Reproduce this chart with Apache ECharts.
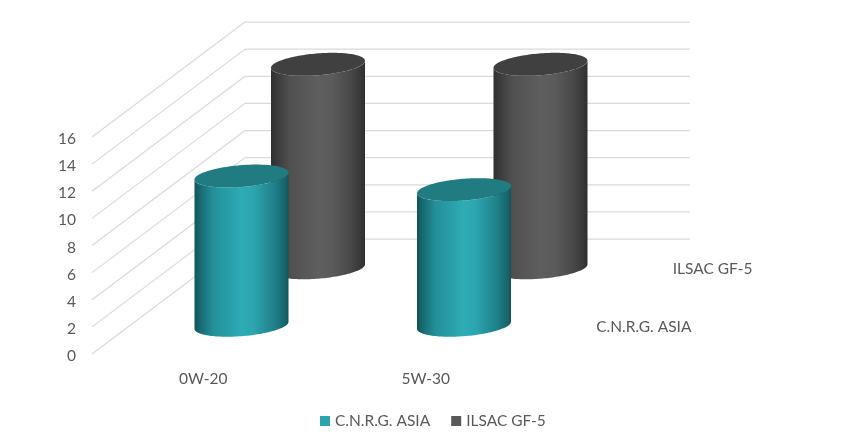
<!DOCTYPE html>
<html>
<head>
<meta charset="utf-8">
<style>html,body{margin:0;padding:0;background:#fff}#c{width:859px;height:446px}</style>
<script src="https://cdn.jsdelivr.net/npm/echarts@6/dist/echarts.min.js"></script>
</head>
<body>
<div id="c"></div>
<script>
const categories = ['0W-20', '5W-30'];
const cnrgValues = [11, 10];
const ilsacValues = [15, 15];
const yTicks = [0, 2, 4, 6, 8, 10, 12, 14, 16];
const seriesNames = ['C.N.R.G. ASIA', 'ILSAC GF-5'];

const FONT = 'Lato';
const FONT_SIZE = 15.5;
const TEXT = '#595959';
const DEPTH_X = 153, DEPTH_Y = 115;
const HALF_W = 47, HALF_H = 11.5, TILT = 18 * Math.PI / 180;

function ellipsePoint(c, t) {
  return [c[0] + HALF_W * Math.cos(t - TILT), c[1] - HALF_H * Math.sin(t)];
}
function grad(stops) {
  return new echarts.graphic.LinearGradient(0, 0, 1, 0,
    stops.map(s => ({ offset: s[0], color: s[1] })));
}
const palette = {
  teal: {
    swatch: '#2aa5ae', top: '#207c81',
    body: [[0, '#11555a'], [0.06, '#176a70'], [0.2, '#23909a'], [0.5, '#2eabb5'], [0.62, '#2ca6b0'], [0.85, '#20808a'], [0.97, '#15636a'], [1, '#125458']]
  },
  grey: {
    swatch: '#595959', top: '#404040',
    body: [[0, '#2f2f2f'], [0.06, '#3a3a3a'], [0.2, '#505050'], [0.5, '#5e5e5e'], [0.65, '#5b5b5b'], [0.85, '#484848'], [0.97, '#353535'], [1, '#2e2e2e']]
  }
};

function cylinderRenderer(depth, colors) {
  return function (params, api) {
    const i = api.value(0), v = api.value(1);
    const b = api.coord([i, 0]), t = api.coord([i, v]);
    const ox = DEPTH_X * depth, oy = -DEPTH_Y * depth;
    const base = [b[0] + ox, b[1] + oy], top = [t[0] + ox, t[1] + oy];
    const body = [], cap = [];
    const N = 72;
    // lower half of the base ellipse, right tangent to left tangent
    for (let k = 0; k <= N; k++) {
      body.push(ellipsePoint(base, TILT - Math.PI * k / N));
    }
    // back up along the lower half of the top ellipse (hidden by the cap)
    for (let k = N; k >= 0; k--) {
      body.push(ellipsePoint(top, TILT - Math.PI * k / N));
    }
    for (let k = 0; k < 2 * N; k++) {
      cap.push(ellipsePoint(top, Math.PI * k / N));
    }
    return {
      type: 'group',
      children: [
        { type: 'polygon', shape: { points: body }, style: { fill: grad(colors.body) } },
        { type: 'polygon', shape: { points: cap }, style: { fill: colors.top } }
      ]
    };
  };
}

function wallRenderer(params, api) {
  const v = api.value(1);
  const band = api.size([1, 0])[0];
  const p0 = api.coord([0, v]), p1 = api.coord([1, v]);
  const x0 = p0[0] - band / 2, x1 = p1[0] + band / 2, y = p0[1];
  const style = { stroke: '#d9d9d9', lineWidth: 1.25, fill: null };
  return {
    type: 'group',
    children: [
      { type: 'line', shape: { x1: x0, y1: y, x2: x0 + DEPTH_X, y2: y - DEPTH_Y }, style },
      { type: 'line', shape: { x1: x0 + DEPTH_X, y1: y - DEPTH_Y, x2: x1 + DEPTH_X, y2: y - DEPTH_Y }, style }
    ]
  };
}

function depthLabelRenderer(name, depth) {
  return function (params, api) {
    const band = api.size([1, 0])[0];
    const p = api.coord([1, 0]);
    return {
      type: 'text',
      x: p[0] + band / 2 + DEPTH_X * depth + 21,
      y: p[1] - DEPTH_Y * depth + 1.5,
      style: { text: name, fill: TEXT, font: FONT_SIZE + 'px ' + FONT, verticalAlign: 'middle' }
    };
  };
}

const chart = echarts.init(document.getElementById('c'), null, { renderer: 'canvas' });
chart.setOption({
  animation: false,
  backgroundColor: '#fff',
  grid: { left: 92, top: 137, width: 445, height: 217, containLabel: false },
  xAxis: {
    type: 'category', data: categories,
    axisLine: { show: false }, axisTick: { show: false }, splitLine: { show: false },
    axisLabel: { color: TEXT, fontFamily: FONT, fontSize: FONT_SIZE, margin: 17 }
  },
  yAxis: {
    type: 'value', min: 0, max: 16, interval: 2,
    axisLine: { show: false }, axisTick: { show: false }, splitLine: { show: false },
    axisLabel: { color: TEXT, fontFamily: FONT, fontSize: FONT_SIZE, margin: 16, verticalAlign: 'top', lineHeight: 16, padding: [-6, 0, 0, 0] }
  },
  legend: {
    data: seriesNames.map((n, k) => ({ name: n, icon: 'rect', itemStyle: { color: k ? palette.grey.swatch : palette.teal.swatch } })),
    bottom: 12, left: 315, itemWidth: 10, itemHeight: 10, itemGap: 21, selectedMode: false,
    textStyle: { color: TEXT, fontFamily: FONT, fontSize: FONT_SIZE }
  },
  series: [
    { type: 'custom', name: 'walls', silent: true, z: 1, data: yTicks.map(v => [0, v]), renderItem: wallRenderer, clip: false },
    { type: 'custom', name: seriesNames[1], silent: true, z: 2, itemStyle: { color: palette.grey.swatch },
      data: ilsacValues.map((v, i) => [i, v]), renderItem: cylinderRenderer(0.75, palette.grey), clip: false },
    { type: 'custom', name: seriesNames[0], silent: true, z: 3, itemStyle: { color: palette.teal.swatch },
      data: cnrgValues.map((v, i) => [i, v]), renderItem: cylinderRenderer(0.25, palette.teal), clip: false },
    { type: 'custom', name: 'depth0', silent: true, z: 4, data: [[1, 0]], renderItem: depthLabelRenderer(seriesNames[0], 0.25), clip: false },
    { type: 'custom', name: 'depth1', silent: true, z: 4, data: [[1, 0]], renderItem: depthLabelRenderer(seriesNames[1], 0.75), clip: false }
  ]
});
</script>
</body>
</html>
